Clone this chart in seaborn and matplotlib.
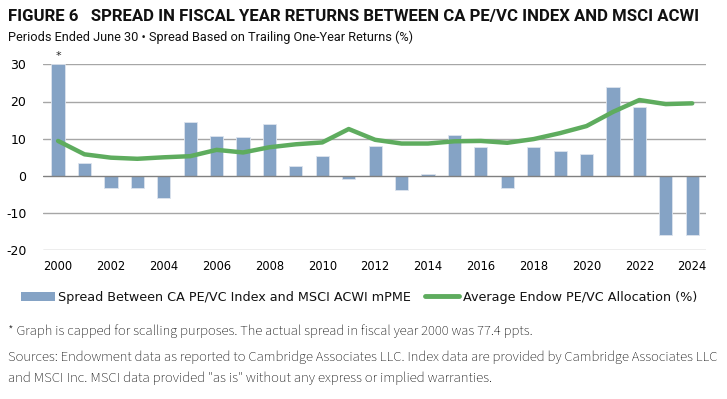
import matplotlib
matplotlib.use("Agg")
import matplotlib.pyplot as plt
import seaborn as sns
import pandas as pd
from matplotlib.patches import Patch
from matplotlib.lines import Line2D

years = list(range(2000, 2025))
spread = [30.0, 3.4, -3.2, -3.3, -5.9, 14.6, 10.6, 10.4, 14.0, 2.6, 5.3, -0.9,
          8.1, -3.7, 0.5, 11.0, 7.7, -3.2, 7.8, 6.8, 5.8, 23.9, 18.6, -15.8, -15.8]
allocation = [9.4, 5.8, 4.9, 4.6, 5.0, 5.3, 7.0, 6.3, 7.7, 8.5, 9.0, 12.6,
              9.7, 8.7, 8.7, 9.3, 9.4, 8.9, 9.9, 11.5, 13.4, 17.2, 20.4, 19.3, 19.5]
yticks = [-20, -10, 0, 10, 20, 30]
xticks = list(range(2000, 2025, 2))

bar_label = "Spread Between CA PE/VC Index and MSCI ACWI mPME"
line_label = "Average Endow PE/VC Allocation (%)"
title = "FIGURE 6   SPREAD IN FISCAL YEAR RETURNS BETWEEN CA PE/VC INDEX AND MSCI ACWI"
subtitle = "Periods Ended June 30 \u2022 Spread Based on Trailing One-Year Returns (%)"
footnote = "* Graph is capped for scalling purposes. The actual spread in fiscal year 2000 was 77.4 ppts."
sources1 = "Sources: Endowment data as reported to Cambridge Associates LLC. Index data are provided by Cambridge Associates LLC"
sources2 = "and MSCI Inc. MSCI data provided \"as is\" without any express or implied warranties."

df = pd.DataFrame({"year": years, "spread": spread, "alloc": allocation})

sns.set_style("white")
SANS = ["DejaVu Sans"]
HEAD = ["Roboto", "DejaVu Sans"]
NOTE = ["Source Sans 3", "DejaVu Sans"]
plt.rcParams["font.family"] = SANS
plt.rcParams["axes.unicode_minus"] = False

bar_c = "#85a3c5"
line_c = "#5eac5e"
txt_c = "#111111"

W, H = 727, 399
fig = plt.figure(figsize=(W / 100, H / 100), dpi=100)
renderer = fig.canvas.get_renderer()


def fit_width(t, target_px):
    w = t.get_window_extent(renderer).width
    t.set_fontsize(t.get_fontsize() * target_px / w)
    return t.get_fontsize()


def size_for(s, target_px, **kw):
    t = fig.text(0, 0, s, fontsize=10, **kw)
    f = fit_width(t, target_px)
    t.remove()
    return f


ax = fig.add_axes([43 / W, 1 - 250.3 / H, (705.7 - 43) / W, (250.3 - 64.3) / H])

for y in yticks:
    if y != 0:
        ax.axhline(y, color="#a6a6a6", lw=1, zorder=0)

sns.barplot(data=df, x="year", y="spread", native_scale=True, width=0.5,
            color=bar_c, saturation=1, edgecolor="#dde4ee", linewidth=0.6, ax=ax, zorder=2)
ax.axhline(0, color="#808080", lw=1, zorder=3)
sns.lineplot(data=df, x="year", y="alloc", color=line_c, lw=3.2, ax=ax, zorder=4)

ax.set_xlim(2000 - 0.57, 2024 + 0.51)
ax.set_ylim(-20, 30)
ax.set_yticks(yticks)
ax.set_xticks(xticks)
ax.set_xlabel("")
ax.set_ylabel("")
for s in ax.spines.values():
    s.set_visible(False)
ax.tick_params(axis="both", length=0, colors="#000000")
ax.tick_params(axis="y", pad=12, labelsize=9)
xt_size = size_for("2000", 29, family=SANS)
ax.tick_params(axis="x", pad=7, labelsize=xt_size)
ax.text(2000, 30.8, "*", ha="center", va="bottom", fontsize=8, clip_on=False)

t = fig.text(8 / W, 1 - 16 / H, title, fontsize=12, fontweight="bold", family=HEAD,
             va="center", ha="left", color=txt_c)
fit_width(t, 690)
t = fig.text(8 / W, 1 - 37 / H, subtitle, fontsize=9, family=HEAD, va="center", ha="left", color=txt_c)
fit_width(t, 409)

leg_fs = size_for(bar_label, 354, family=SANS)
fpx = leg_fs * 100 / 72
handles = [Patch(facecolor=bar_c, edgecolor="none"),
           Line2D([0], [0], color=line_c, lw=3.5)]
leg = fig.legend(handles, [bar_label, line_label], loc="center left",
                 bbox_to_anchor=(21 / W, 1 - 297 / H), ncol=2, frameon=False,
                 fontsize=leg_fs, handlelength=34 / fpx, handletextpad=3.5 / fpx,
                 columnspacing=14 / fpx, borderaxespad=0, borderpad=0)
for tx in leg.get_texts():
    tx.set_color(txt_c)

for s, yy, wpx in [(footnote, 331, 526), (sources1, 357, 712), (sources2, 378, 487)]:
    t = fig.text(8 / W, 1 - yy / H, s, fontsize=9, family=NOTE, va="center", ha="left", color="#000000")
    fit_width(t, wpx)

fig.savefig("out.png", dpi=100)
